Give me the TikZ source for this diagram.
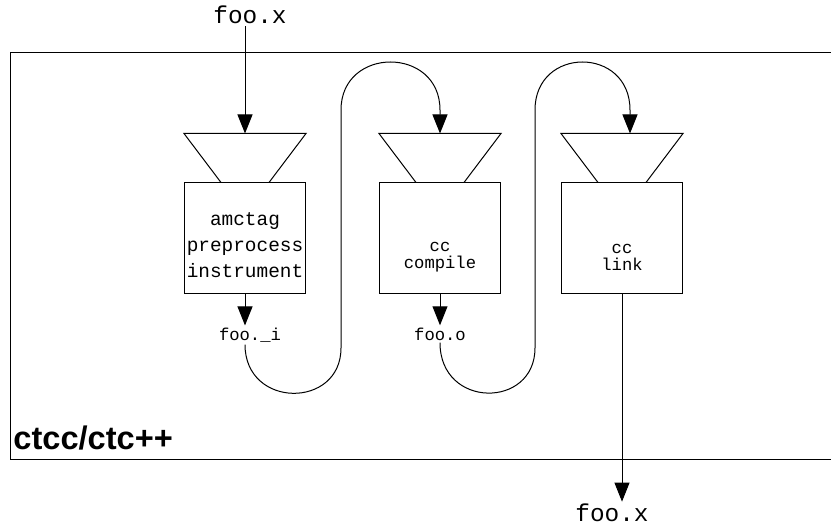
\documentclass[tikz,border=0pt]{standalone}
\usepackage{fontspec}
\setmainfont{Liberation Serif}
\newfontfamily\codefont{Liberation Mono}
\newfontfamily\toolfont{Liberation Sans}
\usetikzlibrary{arrows.meta,positioning}

\begin{document}
\begin{tikzpicture}[x=0.5pt, y=0.5pt,
    stage/.style={draw, line width=0.5pt, minimum width=60.5pt, minimum height=55.5pt, inner sep=0pt},
    stagetext/.style={align=center, inner sep=0pt},
    fname/.style={font=\codefont\fontsize{8.6}{8.6}\selectfont, inner sep=1pt},
    flow/.style={line width=0.5pt, -{Triangle[length=9.5pt, width=7.5pt]}},
    pipe/.style={line width=0.5pt}]

    \useasboundingbox (0,0) rectangle (831,524);

    % Draw frame (open to the right)
    \draw[pipe] (831,471) -- (10,471) -- (10,64) -- (831,64);
    \node[anchor=west, inner sep=0pt, font=\toolfont\bfseries\fontsize{16.3}{16.3}\selectfont] (tool) at (13,86) {ctcc/ctc++};

    % Stages
    \node[stage] (b1) at (245,285.5) {};
    \node[stage] (b2) at (440,285.5) {};
    \node[stage] (b3) at (622,285.5) {};
    \node[stagetext, font=\codefont\fontsize{9.7}{13}\selectfont] (t1) at (245,279) {amctag\\preprocess\\instrument};
    \node[stagetext, font=\codefont\fontsize{8.6}{8.4}\selectfont] (t2) at (440,267) {cc\\compile};
    \node[stagetext, font=\codefont\fontsize{8.6}{8.4}\selectfont] (t3) at (622,267) {cc\\link};

    % Funnels on top of the stages
    \foreach \b/\f in {b1/f1, b2/f2, b3/f3} {
        \draw[pipe] ([shift={(-24,0)}]\b.north) -- ([shift={(-61,49)}]\b.north)
            -- ([shift={(61,49)}]\b.north) -- ([shift={(24,0)}]\b.north);
        \coordinate (\f) at ([shift={(0,49)}]\b.north);
    }

    % File names
    \node[fname, font=\codefont\fontsize{12.2}{12.2}\selectfont] (src) at (250,509) {foo.x};
    \node[fname] (fi) at (250,189) {foo.\_i};
    \node[fname] (fo) at (440,190) {foo.o};
    \node[fname, font=\codefont\fontsize{12.2}{12.2}\selectfont] (out) at (612,11) {foo.x};

    % Flow between the stages
    \draw[flow] (src.south -| f1) -- (f1);
    \draw[flow] (b1.south) -- (b1.south |- fi.north);
    \draw[flow] (b1.south |- fi.south) .. controls (245,115) and (341,115) .. (341,176)
        -- (341,414) .. controls (341,478) and (440,478) .. (440,414) -- (f2);
    \draw[flow] (b2.south) -- (b2.south |- fo.north);
    \draw[flow] (b2.south |- fo.south) .. controls (440,115) and (535,115) .. (535,176)
        -- (535,414) .. controls (535,478) and (630,478) .. (630,414) -- ([xshift=4pt]f3);
    \draw[flow] (b3.south) -- (b3.south |- out.north);

\end{tikzpicture}
\end{document}
